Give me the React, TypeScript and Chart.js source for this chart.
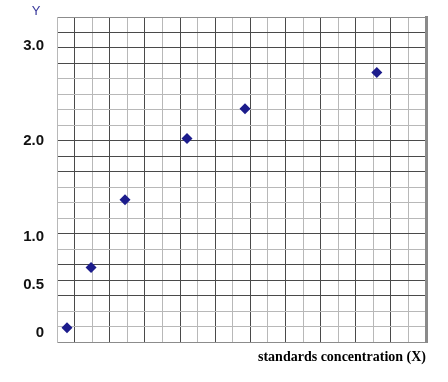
import React, { useEffect, useRef } from "react";
import { Chart, registerables } from "chart.js";

Chart.register(...registerables);

// ---- data ----
const xValues = [0.57, 1.94, 3.87, 7.4, 10.7, 18.2];
const yValues = [0.05, 0.68, 1.39, 2.03, 2.34, 2.72];
const yTickValues = [0, 0.5, 1.0, 2.0, 3.0];
const xTitle = "standards concentration (X)";
const yTitle = "Y";

// ---- style ----
const DARK = "#4a4a4a";
const LIGHT = "#b8b8b8";
const MED = "#8c8c8c";
// horizontal grid darkness, indexed by grid value 0 (bottom) .. 21 (top)
const hDark = [2, 1, 1, 0, 0, 0, 1, 0, 1, 1, 1, 0, 0, 0, 1, 1, 1, 1, 0, 0, 0, 2];

export default function App() {
  const ref = useRef<HTMLCanvasElement | null>(null);

  useEffect(() => {
    if (!ref.current) return;
    const yLabelPlugin = {
      id: "yLabel",
      afterDraw(chart: any) {
        const { ctx, chartArea } = chart;
        ctx.save();
        ctx.font = '13px "Liberation Sans", Arial, sans-serif';
        ctx.fillStyle = "#3a3a9c";
        ctx.textAlign = "center";
        ctx.textBaseline = "middle";
        ctx.fillText(yTitle, chartArea.left - 21, chartArea.top - 6);
        ctx.restore();
      },
    };
    const chart = new Chart(ref.current, {
      type: "scatter",
      data: {
        datasets: [
          {
            data: xValues.map((x, i) => ({ x, y: yValues[i] })),
            pointStyle: "rectRot",
            pointRadius: 5.5,
            pointHoverRadius: 5.5,
            backgroundColor: "#1c1c8c",
            borderColor: "#1c1c8c",
            borderWidth: 0,
          },
        ],
      },
      options: {
        responsive: false,
        animation: false,
        events: [],
        layout: { padding: { top: 17, bottom: 16, left: 0, right: 0 } },
        plugins: { legend: { display: false }, tooltip: { enabled: false } },
        scales: {
          x: {
            type: "linear",
            min: 0,
            max: 21,
            ticks: { display: false, stepSize: 1 },
            grid: {
              drawTicks: false,
              color: (c: any) => (c.tick && c.tick.value % 2 === 1 ? DARK : LIGHT),
            },
            border: { display: true, color: MED },
            title: {
              display: true,
              text: xTitle,
              align: "end",
              color: "#000",
              font: { family: '"Liberation Serif", "Times New Roman", serif', size: 14, weight: "bold" },
              padding: { top: 7, bottom: 0 },
            },
          },
          y: {
            type: "linear",
            position: "left",
            min: -0.1,
            max: 3.3,
            afterBuildTicks: (scale: any) => {
              scale.ticks = yTickValues.map((v) => ({ value: v }));
            },
            afterFit: (scale: any) => {
              scale.width = 57;
              scale.paddingTop = 0;
              scale.paddingBottom = 0;
            },
            ticks: {
              padding: 13,
              color: "#111",
              font: { family: '"Liberation Sans", Arial, sans-serif', size: 15, weight: "bold" },
              callback: (v: any) => (Number(v) === 0 ? "0" : Number(v).toFixed(1)),
            },
            grid: { display: false, drawTicks: false },
            border: { display: true, color: LIGHT },
          },
          y2: {
            type: "linear",
            position: "right",
            min: 0,
            max: 21,
            afterFit: (scale: any) => {
              scale.width = 22;
              scale.paddingTop = 0;
              scale.paddingBottom = 0;
            },
            ticks: { display: false, stepSize: 1 },
            grid: {
              drawTicks: false,
              color: (c: any) => {
                const d = c.tick ? hDark[Math.round(c.tick.value)] : 1;
                return d === 0 ? DARK : d === 2 ? MED : LIGHT;
              },
            },
            border: { display: true, color: "#8a8a8a", width: 3 },
          },
        },
      },
      plugins: [yLabelPlugin],
    } as any);
    return () => chart.destroy();
  }, []);

  return (
    <div style={{ position: "fixed", left: 0, top: 0, width: 448, height: 382, background: "#fff" }}>
      <canvas ref={ref} width={448} height={382} style={{ display: "block", width: 448, height: 382 }} />
    </div>
  );
}
